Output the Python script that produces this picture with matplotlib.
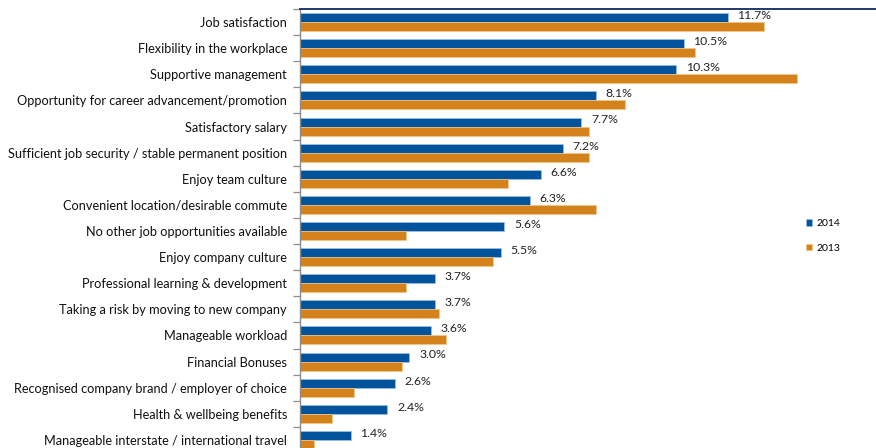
import matplotlib
matplotlib.use("Agg")
import matplotlib.pyplot as plt
from matplotlib.ticker import FixedLocator
import numpy as np

plt.rcParams['font.family'] = ['Lato', 'DejaVu Sans']

categories = [
    "Job satisfaction",
    "Flexibility in the workplace",
    "Supportive management",
    "Opportunity for career advancement/promotion",
    "Satisfactory salary",
    "Sufficient job security / stable permanent position",
    "Enjoy team culture",
    "Convenient location/desirable commute",
    "No other job opportunities available",
    "Enjoy company culture",
    "Professional learning & development",
    "Taking a risk by moving to new company",
    "Manageable workload",
    "Financial Bonuses",
    "Recognised company brand / employer of choice",
    "Health & wellbeing benefits",
    "Manageable interstate / international travel",
]
values_2014 = [11.7, 10.5, 10.3, 8.1, 7.7, 7.2, 6.6, 6.3, 5.6, 5.5, 3.7, 3.7, 3.6, 3.0, 2.6, 2.4, 1.4]
values_2013 = [12.7, 10.8, 13.6, 8.9, 7.9, 7.9, 5.7, 8.1, 2.9, 5.3, 2.9, 3.8, 4.0, 2.8, 1.5, 0.9, 0.4]
series_labels = ["2014", "2013"]

BLUE = "#01539c"
ORANGE = "#d4821b"

W, H = 876, 448
fig = plt.figure(figsize=(W / 100, H / 100), dpi=100)
left_px, right_px, top_px, bottom_px = 299.5, 885, 9, 453
ax = fig.add_axes([left_px / W, (H - bottom_px) / H,
                   (right_px - left_px) / W, (bottom_px - top_px) / H])

n = len(categories)
y = np.arange(n)
bh = 0.345
b1 = ax.barh(y - bh / 2, values_2014, height=bh, color=BLUE,
             edgecolor="#9fc3e6", linewidth=0.5, label=series_labels[0])
b2 = ax.barh(y + bh / 2, values_2013, height=bh, color=ORANGE,
             edgecolor="#f3c58a", linewidth=0.5, label=series_labels[1])

for yi, v in zip(y, values_2014):
    ax.annotate(f"{v:.1f}%", xy=(v, yi - bh / 2 - 0.08), xytext=(7, 0),
                textcoords="offset points", va="center", ha="left",
                fontsize=8.8, color="#222222")

ax.set_ylim(n - 0.5, -0.5)
ax.set_xlim(0, (right_px - left_px) / 36.6)

ax.set_yticks(y)
ax.set_yticklabels(categories, fontsize=9.15, color="#111111")
ax.tick_params(axis="y", which="major", length=0, pad=9)
ax.yaxis.set_minor_locator(FixedLocator(np.arange(n + 1) - 0.5))
ax.tick_params(axis="y", which="minor", length=5, width=0.9, color="#8c8c8c")
ax.set_xticks([])

for s in ["right", "bottom"]:
    ax.spines[s].set_visible(False)
ax.spines["left"].set_color("#8c8c8c")
ax.spines["left"].set_linewidth(1.0)
ax.spines["top"].set_color("#1f3a68")
ax.spines["top"].set_linewidth(1.4)

fig.legend(handles=[b1, b2], labels=series_labels,
           loc="upper left", bbox_to_anchor=(802 / W, (H - 215) / H),
           frameon=False, fontsize=7.5, handlelength=0.6, handleheight=0.6,
           handletextpad=0.35, labelspacing=1.5, borderaxespad=0)

fig.savefig("out.png", dpi=100)
